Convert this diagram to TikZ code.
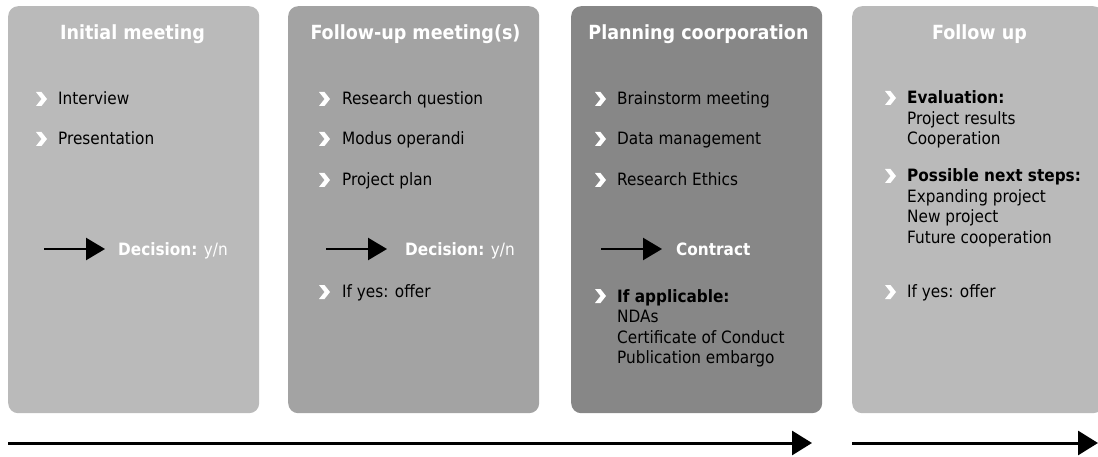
\documentclass[tikz,border=0pt]{standalone}
\usepackage{fontspec}
\setmainfont{DejaVu Sans Condensed}
\usetikzlibrary{arrows.meta}

\definecolor{lightpanel}{HTML}{BABABA}
\definecolor{midpanel}{HTML}{A3A3A3}
\definecolor{darkpanel}{HTML}{878787}

\tikzset{
  panel/.style={fill=#1, draw=none, rounded corners=10pt, anchor=north west,
    minimum width=251pt, minimum height=407pt, inner sep=0pt},
  title/.style={text=white, anchor=base, inner sep=0pt,
    font=\bfseries\fontsize{19.5}{22}\selectfont},
  entry/.style={anchor=base west, inner sep=0pt, align=left,
    font=\fontsize{17}{20.5}\selectfont},
  verdict/.style={entry, text=white},
  chevron/.pic={\fill[white] (0,0) -- (5.5,0) -- (11,7) -- (5.5,14) -- (0,14) -- (5.5,7) -- cycle;},
  step arrow/.style={line width=2.5pt, -{Triangle[length=19pt,width=22pt]}},
  flow/.style={line width=3pt, -{Triangle[length=20pt,width=24pt]}},
}

\begin{document}
\begin{tikzpicture}[x=1pt,y=-1pt]
  \useasboundingbox (0,0) rectangle (1098,457);
  \clip (0,0) rectangle (1098,457);

  % panels
  \node[panel=lightpanel] (p1) at (8,6) {};
  \node[panel=midpanel] (p2) at (288,6) {};
  \node[panel=darkpanel] (p3) at (571,6) {};
  \node[panel=lightpanel] (p4) at (852,6) {};

  % titles
  \node[title] (t1) at (132.5,40) {Initial meeting};
  \node[title] (t2) at (415.5,40) {Follow-up meeting(s)};
  \node[title] (t3) at (698.5,40) {Planning coorporation};
  \node[title] (t4) at (979.5,40) {Follow up};

  % bullet rows
  \foreach \y/\name/\txt in {105/a1/Interview, 145/a2/Presentation}
    {\pic at (36,\y-13) {chevron}; \node[entry] (\name) at (58,\y) {\txt};}
  \foreach \y/\name/\txt in {105/b1/Research question, 145/b2/Modus operandi,
      186/b3/Project plan, 298/b4/If yes: offer}
    {\pic at (319,\y-13) {chevron}; \node[entry] (\name) at (342,\y) {\txt};}
  \foreach \y/\name/\txt in {105/c1/Brainstorm meeting, 145/c2/Data management,
      186/c3/Research Ethics}
    {\pic at (595,\y-13) {chevron}; \node[entry] (\name) at (617,\y) {\txt};}
  % multi-line entries: placed at the baseline of their last line
  \pic at (595,289) {chevron};
  \node[entry] (c4) at (617,363.5)
    {\textbf{If applicable:}\\NDAs\\Certificate of Conduct\\Publication embargo};
  \pic at (885,91) {chevron};
  \node[entry] (d1) at (907,145)
    {\textbf{Evaluation:}\\Project results\\Cooperation};
  \pic at (885,169) {chevron};
  \node[entry] (d2) at (907,243.5)
    {\textbf{Possible next steps:}\\Expanding project\\New project\\Future cooperation};
  \pic at (885,285) {chevron};
  \node[entry] (d3) at (907,298) {If yes: offer};

  % decisions
  \node[verdict] (v1) at (118,255) {\textbf{Decision:} y/n};
  \node[verdict] (v2) at (405,255) {\textbf{Decision:} y/n};
  \node[verdict] (v3) at (676,255) {\textbf{Contract}};
  \coordinate (s1) at (44,249);
  \coordinate (s2) at (326,249);
  \coordinate (s3) at (601,249);
  \draw[step arrow, shorten >=13pt] (s1) -- (s1 -| v1.west);
  \draw[step arrow, shorten >=18pt] (s2) -- (s2 -| v2.west);
  \draw[step arrow, shorten >=14pt] (s3) -- (s3 -| v3.west);

  % time line
  \coordinate (l1) at (8,443);
  \coordinate (r1) at (812,443);
  \coordinate (l2) at (852,443);
  \coordinate (r2) at (1098,443);
  \draw[flow] (l1) -- (r1);
  \draw[flow] (l2) -- (r2);
\end{tikzpicture}
\end{document}
